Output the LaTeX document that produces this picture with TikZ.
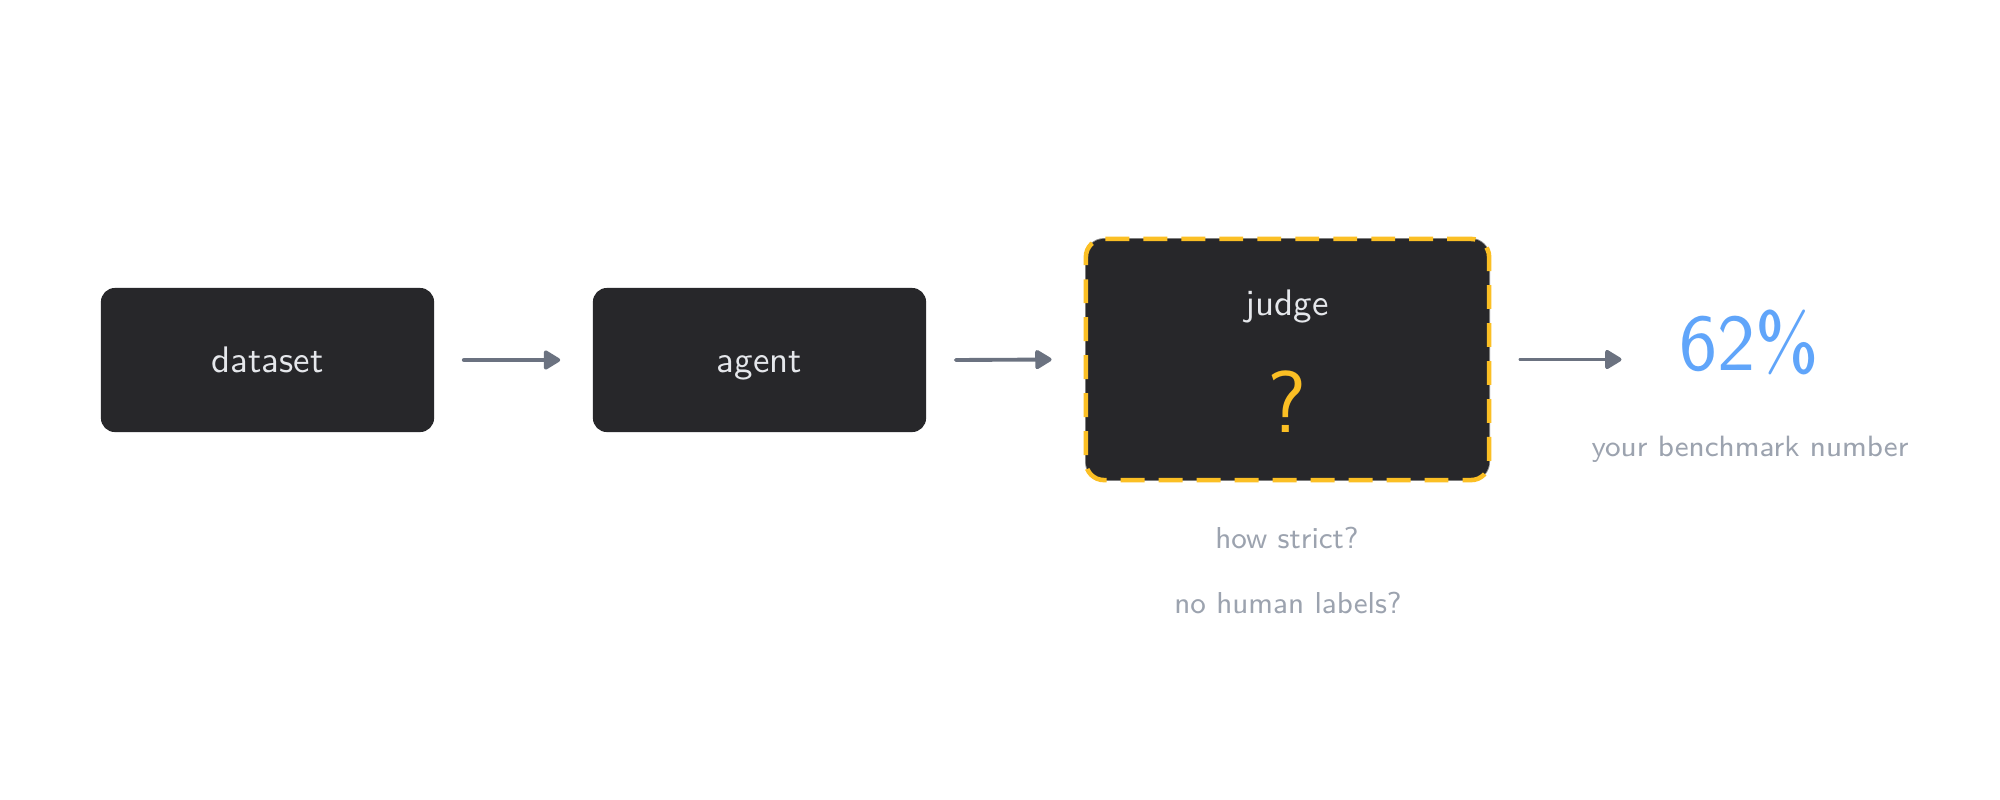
\documentclass[tikz,border=0pt]{standalone}
\usetikzlibrary{arrows.meta}
\definecolor{boxfill}{HTML}{27272A}
\definecolor{boxtext}{HTML}{E5E7EB}
\definecolor{arrowgray}{HTML}{6B7280}
\definecolor{softgray}{HTML}{9CA3AF}
\definecolor{judgeyellow}{HTML}{FBBF24}
\definecolor{numblue}{HTML}{60A5FA}
\tikzset{
  stagebox/.style={fill=boxfill, draw=none, rounded corners=1.4mm, minimum width=3.33cm, minimum height=1.44cm,
    text=boxtext, font=\sffamily\fontsize{10.5}{12}\selectfont, text height=7.3pt, text depth=0pt, inner sep=0pt},
  judgebox/.style={fill=boxfill, draw=judgeyellow, line width=1.3pt, dash pattern=on 6.8pt off 4pt,
    preaction={draw=black!45, line width=0.5pt, solid},
    rounded corners=1.8mm, minimum width=4.03cm, minimum height=2.41cm, inner sep=0pt},
  flowarrow/.style={draw=arrowgray, line width=1.1pt, line cap=round, -{Triangle[length=5.2pt,width=6pt,round]}},
  notetext/.style={text=softgray, font=\sffamily\fontsize{8.6}{10}\selectfont, anchor=base, inner sep=0pt},
}
\begin{document}
\begin{tikzpicture}[x=0.01cm, y=-0.01cm]
  \useasboundingbox[fill=white] (0,0) rectangle (2000,800);
  \node[stagebox] (dataset) at (267.5,360) {dataset};
  \node[stagebox] (agent) at (759.5,360) {agent};
  \node[judgebox] (judge) at (1287.5,359.5) {};
  \node[anchor=base, inner sep=0pt, text=boxtext, font=\sffamily\fontsize{10.5}{12}\selectfont] (judgelabel) at (1287,315) {judge};
  \node[anchor=base, inner sep=0pt, text=judgeyellow, font=\sffamily\fontsize{25}{30}\selectfont] (qmark) at (1287,432) {?};
  \node[anchor=base, inner sep=0pt, text=numblue, font=\sffamily\fontsize{23}{28}\selectfont] (pct) at (1749,370) {62\%};
  \node[notetext, font=\sffamily\fontsize{8.35}{10}\selectfont] (bench) at (1750,456) {your benchmark number};
  \node[notetext] (strict) at (1287,548) {how strict?};
  \node[notetext] (nolabels) at (1288,613) {no human labels?};
  \coordinate (arrowend) at ([xshift=1.30cm]judge.east);
  \draw[flowarrow] ([xshift=0.29cm]dataset.east) -- ([xshift=-0.32cm]agent.west);
  \draw[flowarrow] ([xshift=0.29cm]agent.east) -- ([xshift=-0.32cm]judge.west);
  \draw[flowarrow] ([xshift=0.29cm]judge.east) -- (arrowend);
\end{tikzpicture}
\end{document}
